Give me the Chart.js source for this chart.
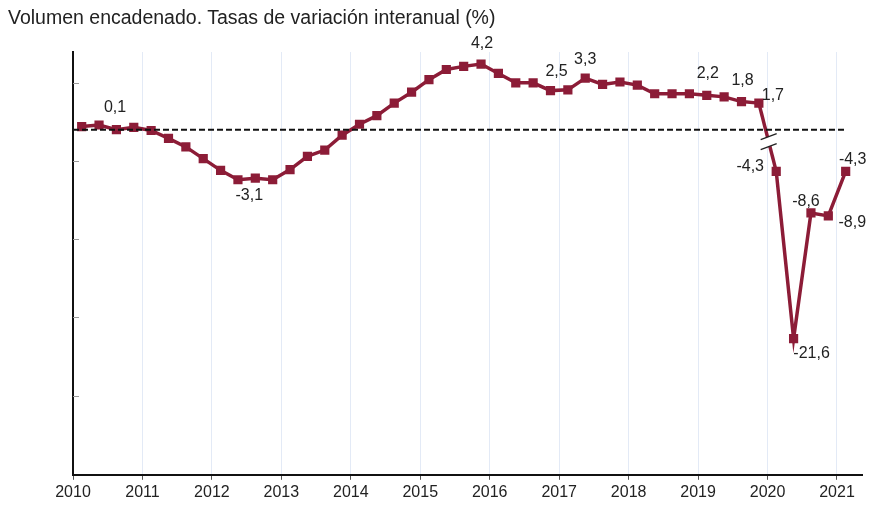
<!DOCTYPE html>
<html>
<head>
<meta charset="utf-8">
<script src="https://cdn.jsdelivr.net/npm/chart.js@4/dist/chart.umd.min.js"></script>
<style>
  body { margin: 0; background: #fff; }
  #wrap { position: relative; width: 872px; height: 505px; }
  #title {
    position: absolute; left: 8px; top: 6px;
    font: 19.5px "Liberation Sans", Arial, sans-serif; color: #222; line-height: 22px;
  }
</style>
</head>
<body>
<div id="wrap">
  <div id="title">Volumen encadenado. Tasas de variación interanual (%)</div>
  <canvas id="chart" width="872" height="505"></canvas>
</div>
<script>
// quarters 2010T1 .. 2021T1
const quarters = [
  "2010T1","2010T2","2010T3","2010T4","2011T1","2011T2","2011T3","2011T4",
  "2012T1","2012T2","2012T3","2012T4","2013T1","2013T2","2013T3","2013T4",
  "2014T1","2014T2","2014T3","2014T4","2015T1","2015T2","2015T3","2015T4",
  "2016T1","2016T2","2016T3","2016T4","2017T1","2017T2","2017T3","2017T4",
  "2018T1","2018T2","2018T3","2018T4","2019T1","2019T2","2019T3","2019T4",
  "2020T1","2020T2","2020T3","2020T4","2021T1"
];

// before the axis break (2010T1 - 2019T4)
const valuesBefore = [
  0.2, 0.3, 0.0, 0.15, -0.05, -0.55, -1.1, -1.85, -2.6, -3.2,
  -3.1, -3.2, -2.55, -1.7, -1.3, -0.35, 0.35, 0.9, 1.7, 2.4,
  3.2, 3.85, 4.05, 4.2, 3.6, 3.0, 3.0, 2.5, 2.55, 3.3,
  2.9, 3.05, 2.85, 2.3, 2.3, 2.3, 2.2, 2.1, 1.8, 1.7
];
// after the axis break (2020T1 - 2021T1)
const valuesAfter = [-4.3, -21.6, -8.6, -8.9, -4.3];

const years = [2010, 2011, 2012, 2013, 2014, 2015, 2016, 2017, 2018, 2019, 2020, 2021];
const yTicks = [3, -2, -7, -12, -17];

// labelled points: index in quarters, text
const labelIndex = [1, 10, 23, 27, 29, 36, 38, 39, 40, 41, 42, 43, 44];
const labelText = ["0,1", "-3,1", "4,2", "2,5", "3,3", "2,2", "1,8", "1,7", "-4,3", "-21,6", "-8,6", "-8,9", "-4,3"];
const labelOffset = [[16,-17],[-6,17],[1,-20],[6,-19],[0,-19],[1,-22],[1,-21],[14,-8],[-26,-5],[18,15],[-5,-11],[24,7],[7,-12]];

const RED = "#8c1c37";
const FONT = "'Liberation Sans', Arial, sans-serif";

// x position of a quarter: middle of the quarter
function quarterX(q) {
  const y = parseInt(q.slice(0, 4));
  const n = parseInt(q.slice(5));
  return y + (n - 0.5) / 4;
}

const before = valuesBefore.map((v, i) => ({ x: quarterX(quarters[i]), y: v }));
const after = valuesAfter.map((v, i) => ({ x: quarterX(quarters[i + valuesBefore.length]), y: v }));

function pointAt(chart, idx) {
  const nb = valuesBefore.length;
  if (idx < nb) return chart.getDatasetMeta(0).data[idx];
  return chart.getDatasetMeta(1).data[idx - nb];
}

const extras = {
  id: "extras",
  beforeDatasetsDraw(chart) {
    const ctx = chart.ctx;
    const a = chart.getDatasetMeta(0).data[valuesBefore.length - 1];
    const b = chart.getDatasetMeta(1).data[0];
    ctx.save();
    ctx.strokeStyle = RED;
    ctx.lineWidth = 3.5;
    ctx.beginPath();
    ctx.moveTo(a.x, a.y);
    ctx.lineTo(b.x, b.y);
    ctx.stroke();
    ctx.restore();
  },
  afterDatasetsDraw(chart) {
    const ctx = chart.ctx;
    const xs = chart.scales.x, ys = chart.scales.y;
    const area = chart.chartArea;
    ctx.save();

    // y axis tick marks (inside)
    ctx.strokeStyle = "#9a9a9a";
    ctx.lineWidth = 1;
    yTicks.forEach(t => {
      const py = Math.round(ys.getPixelForValue(t)) + 0.5;
      ctx.beginPath();
      ctx.moveTo(area.left, py);
      ctx.lineTo(area.left + 6, py);
      ctx.stroke();
    });

    // dashed zero line
    const zy = ys.getPixelForValue(0);
    const endX = xs.getPixelForValue(quarterX(quarters[quarters.length - 1]));
    ctx.strokeStyle = "#111";
    ctx.lineWidth = 2;
    ctx.setLineDash([6, 3]);
    ctx.beginPath();
    ctx.moveTo(area.left, zy);
    ctx.lineTo(endX, zy);
    ctx.stroke();
    ctx.setLineDash([]);

    // axis break marks on the 2019T4 - 2020T1 segment
    const a = chart.getDatasetMeta(0).data[valuesBefore.length - 1];
    const b = chart.getDatasetMeta(1).data[0];
    const cy = zy + 12;
    const cx = a.x + (cy - a.y) / (b.y - a.y) * (b.x - a.x);
    const hw = 8, sl = 3, gap = 5;
    ctx.fillStyle = "#fff";
    ctx.beginPath();
    ctx.moveTo(cx - hw, cy - gap + sl);
    ctx.lineTo(cx + hw, cy - gap - sl);
    ctx.lineTo(cx + hw, cy + gap - sl);
    ctx.lineTo(cx - hw, cy + gap + sl);
    ctx.closePath();
    ctx.fill();
    ctx.strokeStyle = "#222";
    ctx.lineWidth = 1.3;
    [-gap, gap].forEach(d => {
      ctx.beginPath();
      ctx.moveTo(cx - hw, cy + d + sl);
      ctx.lineTo(cx + hw, cy + d - sl);
      ctx.stroke();
    });

    // value labels
    ctx.fillStyle = "#222";
    ctx.font = "16px " + FONT;
    ctx.textAlign = "center";
    ctx.textBaseline = "middle";
    labelIndex.forEach((idx, k) => {
      const p = pointAt(chart, idx);
      ctx.fillText(labelText[k], p.x + labelOffset[k][0], p.y + labelOffset[k][1]);
    });
    ctx.restore();
  }
};

const pointStyle = {
  borderColor: RED,
  backgroundColor: RED,
  borderWidth: 3.5,
  pointStyle: "rect",
  pointRadius: 6.5,
  pointBorderWidth: 0,
  pointBackgroundColor: RED,
  tension: 0
};

new Chart(document.getElementById("chart"), {
  type: "line",
  data: {
    datasets: [
      Object.assign({ label: "antes", data: before, yAxisID: "y" }, pointStyle),
      Object.assign({ label: "después", data: after, yAxisID: "y2" }, pointStyle)
    ]
  },
  options: {
    responsive: false,
    animation: false,
    layout: { padding: { left: 65, top: 52, right: 10, bottom: 0 } },
    plugins: { legend: { display: false }, tooltip: { enabled: false } },
    scales: {
      x: {
        type: "linear",
        min: 2010,
        max: 2021.36,
        afterBuildTicks: axis => { axis.ticks = years.map(v => ({ value: v })); },
        ticks: {
          callback: v => String(v),
          color: "#222",
          font: { family: FONT, size: 16 },
          padding: 3,
          maxRotation: 0,
          autoSkip: false
        },
        grid: { color: "#e3eaf6", lineWidth: 1, tickColor: "#555", tickLength: 5 },
        border: { color: "#111", width: 2 }
      },
      y: {
        min: -22.07,
        max: 4.97,
        afterBuildTicks: axis => { axis.ticks = yTicks.map(v => ({ value: v })); },
        ticks: { display: false },
        grid: { display: false },
        border: { color: "#111", width: 2 }
      },
      y2: {
        display: false,
        min: -35.67,
        max: 8.04
      }
    }
  },
  plugins: [extras]
});
</script>
</body>
</html>
